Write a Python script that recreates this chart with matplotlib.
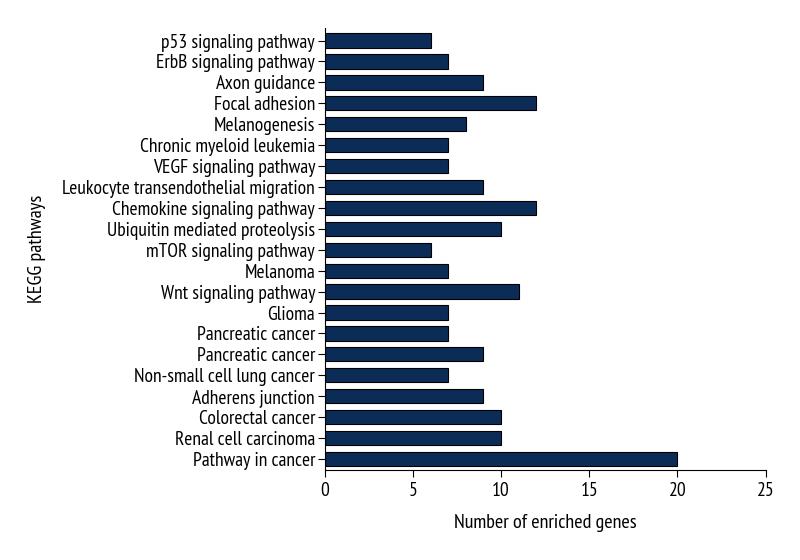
import matplotlib.pyplot as plt

pathways = ['p53 signaling pathway', 'ErbB signaling pathway', 'Axon guidance',
            'Focal adhesion', 'Melanogenesis', 'Chronic myeloid leukemia',
            'VEGF signaling pathway', 'Leukocyte transendothelial migration',
            'Chemokine signaling pathway', 'Ubiquitin mediated proteolysis',
            'mTOR signaling pathway', 'Melanoma', 'Wnt signaling pathway', 'Glioma',
            'Pancreatic cancer', 'Pancreatic cancer', 'Non-small cell lung cancer',
            'Adherens junction', 'Colorectal cancer', 'Renal cell carcinoma',
            'Pathway in cancer']
gene_counts = [6, 7, 9, 12, 8, 7, 7, 9, 12, 10, 6, 7, 11, 7, 7, 9, 7, 9, 10, 10, 20]

plt.rcParams['font.family'] = ['PT Sans Narrow', 'DejaVu Sans']
plt.rcParams['font.size'] = 14

fig = plt.figure(figsize=(8, 5.6), dpi=100)
ax = fig.add_axes([0.406, 0.161, 0.551, 0.789])

n = len(pathways)
pos = [n - 1 - i for i in range(n)]
ax.barh(pos, gene_counts, height=0.68, color='#0c2c58', edgecolor='black', linewidth=0.8)
ax.set_yticks(pos)
ax.set_yticklabels(pathways, fontsize=14)
ax.set_ylim(-0.52, n - 0.4)
ax.set_xlim(0, 25)
ax.set_xticks([0, 5, 10, 15, 20, 25])
ax.tick_params(axis='x', labelsize=14, length=5, pad=4)
ax.tick_params(axis='y', length=5, pad=2)
ax.spines['top'].set_visible(False)
ax.spines['right'].set_visible(False)
ax.set_xlabel('Number of enriched genes', fontsize=14.5, labelpad=10)
ax.set_ylabel('KEGG pathways', fontsize=14.5, labelpad=12)

fig.savefig('out.png', dpi=100)
